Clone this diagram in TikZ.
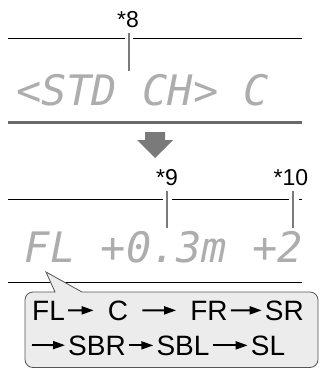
\documentclass[tikz,border=0pt]{standalone}
\usepackage{fontspec}
\setmainfont{Liberation Sans}
\newfontfamily\lcdfont{DejaVu Sans Mono}
\usetikzlibrary{arrows.meta}
\definecolor{boxgray}{HTML}{ECECEC}
\definecolor{boxline}{HTML}{555555}
\definecolor{cursorgray}{HTML}{7A7A7A}
\definecolor{rulegray}{HTML}{6A6A6A}
\tikzstyle{lcd}=[font={\lcdfont\itshape\fontsize{42}{42}\selectfont},text=black!32,anchor=base,inner sep=0pt]
\tikzstyle{note}=[font={\fontsize{23}{23}\selectfont},inner sep=0pt]
\tikzstyle{cursor}=[draw=cursorgray,line width=2.5pt]
\tikzstyle{chan}=[font={\fontsize{28}{28}\selectfont},inner sep=0pt,anchor=base]
\tikzstyle{flow}=[-{Triangle[length=12pt,width=8pt]},line width=1.8pt,shorten <=3pt,shorten >=3pt]
\begin{document}
\begin{tikzpicture}[x=1pt,y=-1pt]
\useasboundingbox (0,0) rectangle (321,369);
% first display
\node[note] (n8) at (128,20) {*8};
\draw (8,38) -- (125,38);
\draw (133,38) -- (302,38);
\draw[cursor] (129,33) -- (129,71);
\node[lcd] (std) at (142.5,105) {<STD CH> C};
\draw[draw=rulegray,line width=3pt] (8,122) -- (302,122);
% step arrow
\fill[cursorgray] (145,132) -- (165,132) -- (165,140) -- (173,140) -- (155,158) -- (137,140) -- (145,140) -- cycle;
% second display
\node[note] (n9) at (167,178) {*9};
\node[note] (n10) at (291,178) {*10};
\draw (8,199) -- (163,199);
\draw (172,199) -- (289,199);
\draw (299,199) -- (302,199);
\draw[cursor] (167,191) -- (167,228);
\draw[cursor] (293,191) -- (293,228);
\node[lcd] (fl+) at (164,262) {FL +0.3m +2};
\draw (8,282) -- (302,282);
% callout
\draw[fill=boxgray,draw=boxline,line width=0.8pt] (46,272) -- (82,292) [rounded corners=8pt] -- (318,292) -- (318,367.5) -- (25,367.5) -- (25,292) [sharp corners] -- (55,292) -- cycle;
\node[chan,anchor=base west] (fl) at (32,320) {FL};
\node[chan,inner xsep=11pt] (c) at (118,320) {C};
\node[chan] (fr) at (209,320) {FR};
\node[chan,anchor=base east] (sr) at (304,320) {SR};
\coordinate (start) at (32,345);
\node[chan] (sbr) at (97,355) {SBR};
\node[chan] (sbl) at (183,355) {SBL};
\node[chan] (sl) at (268,355) {SL};
\draw[flow] (fl) -- (c);
\draw[flow,shorten >=14pt] (c) -- (fr);
\draw[flow] (fr) -- (sr);
\draw[flow,shorten <=0pt] (start) -- (sbr);
\draw[flow] (sbr) -- (sbl);
\draw[flow] (sbl) -- (sl);
\end{tikzpicture}
\end{document}
